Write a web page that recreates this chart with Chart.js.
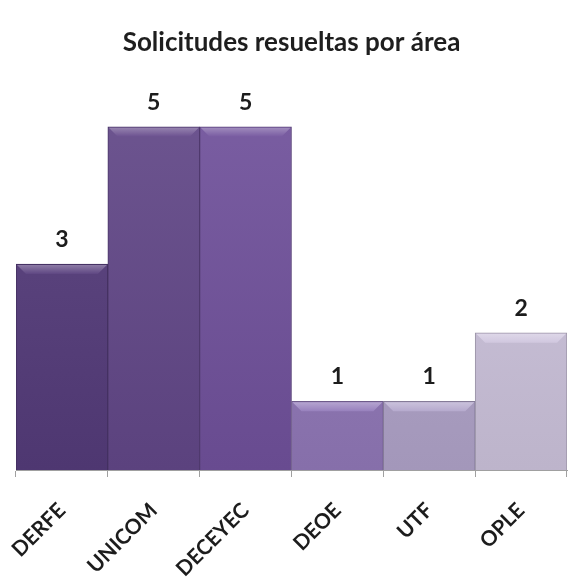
<!DOCTYPE html>
<html>
<head>
<meta charset="utf-8">
<script src="https://cdn.jsdelivr.net/npm/chart.js@4.4.1/dist/chart.umd.min.js"></script>
<style>
  html, body { margin: 0; padding: 0; background: #fff; }
  #wrap { width: 568px; height: 578px; }
</style>
</head>
<body>
<div id="wrap"><canvas id="barChart" width="568" height="578"></canvas></div>
<script>
const areas = ['DERFE', 'UNICOM', 'DECEYEC', 'DEOE', 'UTF', 'OPLE'];
const solicitudes = [3, 5, 5, 1, 1, 2];
const barColors = ['#553c7b', '#634889', '#71529c', '#9279b9', '#b1a4ca', '#cdc4dd'];
const chartTitle = 'Solicitudes resueltas por área';

const FONT = 'Lato, "Open Sans", sans-serif';

// mix a hex colour with white (amt > 0) or black (amt < 0)
const shade = (hex, amt) => {
  const n = parseInt(hex.slice(1), 16);
  let rgb = [(n >> 16) & 255, (n >> 8) & 255, n & 255];
  rgb = rgb.map(c => amt >= 0 ? Math.round(c + (255 - c) * amt) : Math.round(c * (1 + amt)));
  return `rgb(${rgb[0]}, ${rgb[1]}, ${rgb[2]})`;
};

// soft bevel on top of each bar
const bevelPlugin = {
  id: 'bevel',
  afterDatasetsDraw(chart) {
    const ctx = chart.ctx;
    chart.getDatasetMeta(0).data.forEach((bar, i) => {
      const left = bar.x - bar.width / 2;
      const right = bar.x + bar.width / 2;
      const top = bar.y;
      const d = 10;
      ctx.save();
      ctx.beginPath();
      ctx.moveTo(left + 1, top + 1);
      ctx.lineTo(right - 1, top + 1);
      ctx.lineTo(right - d, top + d);
      ctx.lineTo(left + d, top + d);
      ctx.closePath();
      const g = ctx.createLinearGradient(0, top, 0, top + d);
      g.addColorStop(0, shade(barColors[i], 0.35));
      g.addColorStop(1, shade(barColors[i], 0.05));
      ctx.fillStyle = g;
      ctx.fill();
      ctx.restore();
    });
  }
};

// value labels above the bars
const valuePlugin = {
  id: 'values',
  afterDatasetsDraw(chart) {
    const ctx = chart.ctx;
    const ds = chart.data.datasets[0];
    ctx.save();
    ctx.font = `bold 23px ${FONT}`;
    ctx.fillStyle = '#1c1c1c';
    ctx.textAlign = 'center';
    ctx.textBaseline = 'alphabetic';
    chart.getDatasetMeta(0).data.forEach((bar, i) => {
      ctx.fillText(String(ds.data[i]), bar.x, bar.y - 17);
    });
    ctx.restore();
  }
};

const ctx = document.getElementById('barChart').getContext('2d');

new Chart(ctx, {
  type: 'bar',
  data: {
    labels: areas,
    datasets: [{
      label: 'Solicitudes',
      data: solicitudes,
      backgroundColor: (c) => {
        const area = c.chart.chartArea;
        const col = barColors[c.dataIndex];
        if (!area) return col;
        const g = c.chart.ctx.createLinearGradient(0, area.top, 0, area.bottom);
        g.addColorStop(0, shade(col, 0.08));
        g.addColorStop(1, shade(col, -0.08));
        return g;
      },
      borderColor: (c) => shade(barColors[c.dataIndex], -0.25),
      borderWidth: 1,
      borderSkipped: 'bottom',
      categoryPercentage: 1,
      barPercentage: 1
    }]
  },
  options: {
    responsive: false,
    animation: false,
    layout: { padding: { top: 19, left: 16, right: 1, bottom: 0 } },
    plugins: {
      legend: { display: false },
      tooltip: { enabled: false },
      title: {
        display: true,
        text: chartTitle,
        color: '#1e1e1e',
        font: { family: FONT, size: 26, weight: 'bold', lineHeight: 1.2 },
        padding: { top: 8, bottom: 0 }
      }
    },
    scales: {
      y: {
        display: false,
        min: 0,
        max: 6
      },
      x: {
        afterFit: (scale) => {
          scale.height = 108;
          scale.paddingLeft = 0;
          scale.paddingRight = 0;
        },
        border: { display: true, color: '#a0a0a0', width: 1 },
        grid: {
          offset: true,
          drawOnChartArea: false,
          drawTicks: true,
          tickLength: 7,
          color: '#a0a0a0'
        },
        ticks: {
          autoSkip: false,
          minRotation: 45,
          maxRotation: 45,
          padding: 21,
          color: '#1c1c1c',
          font: { family: FONT, size: 21, weight: 'bold' }
        }
      }
    }
  },
  plugins: [bevelPlugin, valuePlugin]
});
</script>
</body>
</html>
